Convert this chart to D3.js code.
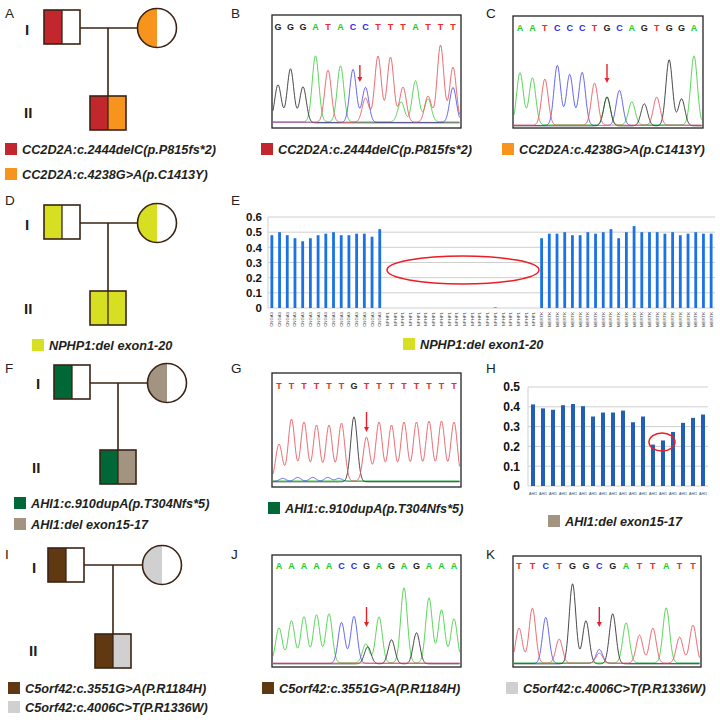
<!DOCTYPE html>
<html><head><meta charset="utf-8">
<script src="https://cdn.jsdelivr.net/npm/d3@7"></script>
<style>body{margin:0;background:#fff}svg{display:block}</style>
</head><body><svg id="c" width="720" height="723"></svg>
<script>
// ---------------- DATA ----------------
const panelLetters = ["A","B","C","D","E","F","G","H","I","J","K"];
const generations = ["I","II"];

// variants (legend labels)
const vA1 = "CC2D2A:c.2444delC(p.P815fs*2)";
const vA2 = "CC2D2A:c.4238G>A(p.C1413Y)";
const vD1 = "NPHP1:del exon1-20";
const vF1 = "AHI1:c.910dupA(p.T304Nfs*5)";
const vF2 = "AHI1:del exon15-17";
const vI1 = "C5orf42:c.3551G>A(P.R1184H)";
const vI2 = "C5orf42:c.4006C>T(P.R1336W)";

// pedigree genotypes: [left half, right half] variant of father, mother, child
const pedA = {father:[vA1,null], mother:[vA2,null], child:[vA1,vA2]};
const pedD = {father:[vD1,null], mother:[vD1,null], child:[vD1,vD1]};
const pedF = {father:[vF1,null], mother:[vF2,null], child:[vF1,vF2]};
const pedI = {father:[vI1,null], mother:[vI2,null], child:[vI1,vI2]};

// Sanger traces: called bases and peak intensities [base index, channel, height]
const bBases = ["G","G","G","A","T","A","C","C","T","T","T","A","T","T","T"];
const bPeaks = [[0,"G",38],[1,"G",54],[2,"G",36],[3,"A",66],[4,"T",52],[5,"A",56],[6,"C",53],
  [7,"T",24],[7,"C",35],[8,"T",66],[9,"T",65],[10,"T",35],[9.85,"A",20],[11,"A",41],
  [12,"T",26],[12,"A",23],[13,"T",77],[14,"T",55],[14,"C",35]];
const bArrow = 6.55;

const cBases = ["A","A","T","C","C","C","T","G","C","A","G","T","G","G","A"];
const cPeaks = [[0,"A",52],[1,"A",47],[2,"T",46],[3,"C",60],[4,"C",51],[5,"C",53],[6,"T",42],
  [7,"G",29],[7,"A",27],[8,"C",35],[9,"A",23],[10,"G",22],[11,"T",28],[12,"G",66],[13,"G",27],[14,"A",69]];
const cArrow = 7;

const gBases = ["T","T","T","T","T","T","G","T","T","T","T","T","T","T","T"];
const gPeaks = [[0,"T",37],[1,"T",62],[2,"T",59],[3,"T",56],[4,"T",56],[5,"T",58],[6,"G",65],
  [7,"T",44],[8,"T",59],[9,"T",56],[10,"T",59],[11,"T",59],[12,"T",60],[13,"T",60],[14,"T",59],
  [0.3,"C",3],[1.5,"C",4],[2.7,"C",4],[3.9,"C",4],[4.8,"C",3]];
const gArrow = 7;

const jBases = ["A","A","A","A","A","C","C","G","A","G","A","G","A","A","A"];
const jPeaks = [[0,"A",35],[1,"A",42],[2,"A",46],[3,"A",48],[4,"A",49],[5,"C",41],[6,"C",47],
  [6.95,"A",19],[7.1,"G",17],[8,"A",46],[9,"G",24],[10,"A",75],[11,"G",31],[12,"A",65],[13,"A",53],[14,"A",44]];
const jArrow = 7;

const kBases = ["T","T","C","T","G","G","C","G","A","T","T","A","T","T"];
const kPeaks = [[0,"T",35],[1,"T",55],[2,"C",46],[3,"T",24],[4,"G",80],[5,"G",43],[6,"C",14],[6,"T",10],
  [7,"G",50],[8,"A",40],[9,"T",28],[10,"T",35],[11,"A",55],[12,"T",26],[13,"T",38]];
const kArrow = 6;

// Panel E: copy-number ratios
const eGenes = [].concat(Array(15).fill("CNGA3"), Array(20).fill("NPHP1"), Array(23).fill("MERTK"));
const eValues = [0.48,0.50,0.48,0.46,0.44,0.46,0.48,0.49,0.50,0.48,0.48,0.49,0.49,0.47,0.52,
  0,0,0,0,0,0,0,0,0,0,0,0,0,0,0.004,0,0,0,0,0,
  0.46,0.49,0.49,0.50,0.48,0.48,0.50,0.49,0.50,0.52,0.46,0.50,0.54,0.50,0.50,0.50,0.49,0.50,0.48,0.49,0.50,0.49,0.49];
const eTicks = [0,0.1,0.2,0.3,0.4,0.5,0.6];

// Panel H: AHI1 ratios
const hGenes = Array(18).fill("AHI1");
const hValues = [0.412,0.392,0.385,0.408,0.414,0.403,0.351,0.371,0.371,0.381,0.322,0.351,0.209,0.23,0.273,0.319,0.344,0.361];
const hTicks = [0,0.1,0.2,0.3,0.4,0.5];

// ---------------- STYLE ----------------
const variantColor = {};
variantColor[vA1] = "#c1272d"; variantColor[vA2] = "#f7941d";
variantColor[vD1] = "#d7df23";
variantColor[vF1] = "#006837"; variantColor[vF2] = "#a39482";
variantColor[vI1] = "#603913"; variantColor[vI2] = "#d0d0d0";
const chColor = {A:"#3ecf3e", C:"#4c4cee", G:"#2a2a2a", T:"#e8545a"};
const letterColor = {A:"#22cc22", C:"#2a2af0", G:"#222", T:"#f02a2a"};
const FONT = "Arial, 'Liberation Sans', sans-serif";
const OUT = "#3b2314";

const svg = d3.select("#c");
svg.append("rect").attr("width",720).attr("height",723).attr("fill","#fff");

// panel letters
const letterPos = {A:[5,18],B:[231,18],C:[486,18],D:[5,205],E:[231,205],F:[5,373],G:[231,373],H:[486,373],I:[5,559],J:[231,559],K:[486,559]};
panelLetters.forEach(l => {
  svg.append("text").attr("x",letterPos[l][0]).attr("y",letterPos[l][1]).text(l)
    .attr("font-family",FONT).attr("font-size",13.5).attr("fill","#222");
});

function legend(x, y, v) {
  svg.append("rect").attr("x",x).attr("y",y).attr("width",12).attr("height",12).attr("fill",variantColor[v]);
  svg.append("text").attr("x",x+17).attr("y",y+10.5).text(v)
    .attr("font-family",FONT).attr("font-size",12.7).attr("font-weight","bold").attr("font-style","italic").attr("fill","#231f20");
}

// ---------------- PEDIGREES ----------------
function pedigree(ped, L) {
  const g = svg.append("g");
  const sw = 1.6;
  // lines
  g.append("line").attr("x1",L.fx+36).attr("x2",L.mx-L.r).attr("y1",L.ly).attr("y2",L.ly).attr("stroke",OUT).attr("stroke-width",sw);
  g.append("line").attr("x1",L.dx).attr("x2",L.dx).attr("y1",L.ly).attr("y2",L.cy).attr("stroke",OUT).attr("stroke-width",sw);
  function square(x, y, halves) {
    halves.forEach((v,i) => {
      g.append("rect").attr("x",x+i*18).attr("y",y).attr("width",18).attr("height",34)
        .attr("fill", v ? variantColor[v] : "#fff");
    });
    g.append("rect").attr("x",x).attr("y",y).attr("width",36).attr("height",34)
      .attr("fill","none").attr("stroke",OUT).attr("stroke-width",sw);
    g.append("line").attr("x1",x+18).attr("x2",x+18).attr("y1",y).attr("y2",y+34).attr("stroke",OUT).attr("stroke-width",sw*0.8);
  }
  square(L.fx, L.fy, ped.father);
  square(L.cx, L.cy, ped.child);
  // mother circle
  g.append("circle").attr("cx",L.mx).attr("cy",L.ly).attr("r",L.r).attr("fill","#fff");
  if (ped.mother[0]) {
    const arc = d3.arc().innerRadius(0).outerRadius(L.r).startAngle(Math.PI).endAngle(2*Math.PI);
    g.append("path").attr("d",arc()).attr("transform",`translate(${L.mx},${L.ly})`).attr("fill",variantColor[ped.mother[0]]);
  }
  g.append("circle").attr("cx",L.mx).attr("cy",L.ly).attr("r",L.r).attr("fill","none").attr("stroke",OUT).attr("stroke-width",sw);
  // generation labels
  g.append("text").attr("x",L.g1[0]).attr("y",L.g1[1]).text(generations[0]).attr("font-family",FONT).attr("font-size",15).attr("font-weight","bold").attr("fill","#231f20");
  g.append("text").attr("x",L.g2[0]).attr("y",L.g2[1]).text(generations[1]).attr("font-family",FONT).attr("font-size",15).attr("font-weight","bold").attr("fill","#231f20");
}
pedigree(pedA, {fx:44,fy:10,mx:157,r:19.5,ly:28,dx:108,cx:90,cy:96,g1:[25,35],g2:[24,118]});
pedigree(pedD, {fx:44,fy:205,mx:157,r:19.5,ly:223,dx:108,cx:90,cy:291,g1:[25,230],g2:[24,314]});
pedigree(pedF, {fx:54,fy:365,mx:167,r:19.5,ly:383,dx:118,cx:100,cy:450,g1:[36,389],g2:[32,473]});
pedigree(pedI, {fx:48,fy:548,mx:162,r:19.5,ly:565,dx:113,cx:95,cy:634,g1:[32,573],g2:[29,656]});

legend(5,143,vA1); legend(5,168,vA2);
legend(32,339,vD1);
legend(14,497,vF1); legend(14,518,vF2);
legend(8,682,vI1); legend(8,701,vI2);

// ---------------- CHROMATOGRAMS ----------------
let clipId = 0;
function chrom(bases, peaks, arrowIdx, L) {
  const g = svg.append("g");
  const x = d3.scaleLinear().domain([0, bases.length-1]).range([L.first, L.last]);
  const y = d3.scaleLinear().domain([0, 100]).range([L.base, L.base-100]);
  const id = "clip"+(clipId++);
  g.append("clipPath").attr("id",id).append("rect").attr("x",L.x0).attr("y",L.y0).attr("width",L.x1-L.x0).attr("height",L.y1-L.y0);
  const sigma = 3.3;
  const off = {A:1.2, C:0.6, G:0.2, T:0.9};
  const line = d3.line();
  ["A","C","G","T"].forEach(ch => {
    const pk = peaks.filter(p => p[1] === ch);
    const pts = d3.range(L.x0+1, L.x1-1, 0.5).map(px => {
      let v = off[ch];
      pk.forEach(p => { const d = px - x(p[0]); v += p[2]*Math.exp(-d*d/(2*sigma*sigma)); });
      return [px, y(v)];
    });
    g.append("path").attr("d",line(pts)).attr("fill","none").attr("stroke",chColor[ch])
      .attr("stroke-width",1).attr("stroke-opacity",0.85).attr("clip-path",`url(#${id})`);
  });
  g.append("rect").attr("x",L.x0).attr("y",L.y0).attr("width",L.x1-L.x0).attr("height",L.y1-L.y0)
    .attr("fill","none").attr("stroke","#222").attr("stroke-width",1.3);
  bases.forEach((b,i) => {
    g.append("text").attr("x",x(i)).attr("y",L.ly).attr("text-anchor","middle").text(b)
      .attr("font-family",FONT).attr("font-size",9).attr("font-weight","bold").attr("fill",letterColor[b]);
  });
  const ax = x(arrowIdx);
  g.append("line").attr("x1",ax).attr("x2",ax).attr("y1",L.a0).attr("y2",L.a1-3).attr("stroke","#e8202a").attr("stroke-width",1.4);
  g.append("path").attr("d",`M${ax-2.5},${L.a1-5}L${ax+2.5},${L.a1-5}L${ax},${L.a1}Z`).attr("fill","#e8202a");
}
chrom(bBases, bPeaks, bArrow, {x0:272,y0:15,x1:461,y1:128,first:278,last:453,base:123,ly:30,a0:65,a1:82});
chrom(cBases, cPeaks, cArrow, {x0:513,y0:16,x1:703,y1:128,first:520,last:694,base:126,ly:31,a0:64,a1:83});
chrom(gBases, gPeaks, gArrow, {x0:272,y0:373,x1:461,y1:487,first:279,last:454,base:482,ly:389,a0:412,a1:432});
chrom(jBases, jPeaks, jArrow, {x0:272,y0:555,x1:461,y1:667,first:279,last:454,base:664,ly:569,a0:607,a1:627});
chrom(kBases, kPeaks, kArrow, {x0:513,y0:556,x1:701,y1:667,first:519,last:693,base:664,ly:569,a0:607,a1:627});

legend(261,143,vA1);
legend(502,143,vA2);
legend(268,502,vF1);
legend(262,682,vI1);
legend(506,682,vI2);

// ---------------- BAR CHARTS ----------------
function bars(labels, values, ticks, L) {
  const g = svg.append("g");
  const x = d3.scaleBand().domain(d3.range(values.length)).range([L.x0, L.x1]);
  const y = d3.scaleLinear().domain([0, ticks[ticks.length-1]]).range([L.y0, L.y1]);
  ticks.forEach(t => {
    g.append("line").attr("x1",L.x0).attr("x2",L.x1).attr("y1",y(t)).attr("y2",y(t)).attr("stroke","#cfcfcf").attr("stroke-width",1);
  });
  g.append("line").attr("x1",L.x0).attr("x2",L.x0).attr("y1",L.y0).attr("y2",L.y1).attr("stroke","#cfcfcf").attr("stroke-width",1);
  const yAxis = d3.axisLeft(y).tickValues(ticks).tickSize(0).tickPadding(L.pad).tickFormat(d => d === 0 ? "0" : d3.format(".1f")(d));
  const ag = g.append("g").attr("transform",`translate(${L.x0},0)`).call(yAxis);
  ag.select(".domain").remove();
  ag.selectAll("text").attr("font-family",FONT).attr("font-size",L.fs).attr("font-weight","bold").attr("fill","#111");
  values.forEach((v,i) => {
    g.append("rect").attr("x",x(i)+x.bandwidth()/2-L.bw/2).attr("y",y(v)).attr("width",L.bw).attr("height",y(0)-y(v)).attr("fill",L.color);
  });
  labels.forEach((lab,i) => {
    const cx = x(i)+x.bandwidth()/2;
    if (L.rot) {
      g.append("text").attr("transform",`translate(${cx+1.5},${L.ly}) rotate(-90)`).attr("text-anchor","end").text(lab)
        .attr("font-family",FONT).attr("font-size",L.lfs).attr("fill","#444");
    } else {
      g.append("text").attr("x",cx).attr("y",L.ly).attr("text-anchor","middle").text(lab)
        .attr("font-family",FONT).attr("font-size",L.lfs).attr("fill","#444");
    }
  });
  g.append("ellipse").attr("cx",L.ell[0]).attr("cy",L.ell[1]).attr("rx",L.ell[2]).attr("ry",L.ell[3])
    .attr("fill","none").attr("stroke","#ee1c24").attr("stroke-width",1.5);
}
bars(eGenes, eValues, eTicks, {x0:268,x1:715,y0:308,y1:217,bw:2.8,color:"#1b72e2",fs:11.5,pad:6,rot:true,ly:312,lfs:4.3,ell:[463,270,76,14]});
bars(hGenes, hValues, hTicks, {x0:528,x1:708,y0:486,y1:387,bw:4,color:"#2260b8",fs:12,pad:8,rot:false,ly:495,lfs:3.6,ell:[662,442,13,9]});

legend(403,338,vD1);
legend(548,515,vF2);
</script></body></html>
